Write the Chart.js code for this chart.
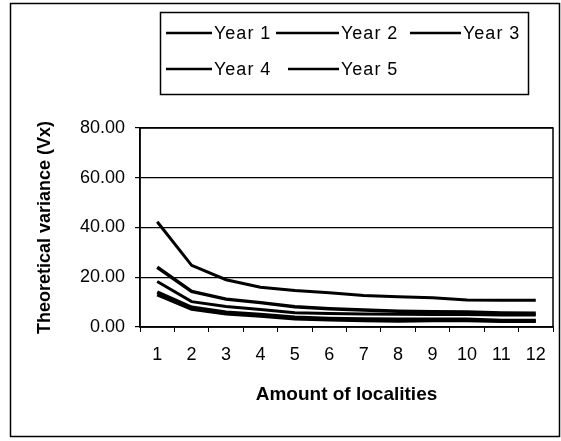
<!DOCTYPE html>
<html>
<head>
<meta charset="utf-8">
<script src="https://cdn.jsdelivr.net/npm/chart.js@4.4.1/dist/chart.umd.min.js"></script>
<style>
  html, body { margin: 0; padding: 0; background: #fff; }
  #wrap { width: 561px; height: 441px; position: relative; }
</style>
</head>
<body>
<div id="wrap"><canvas id="c" width="561" height="441"></canvas></div>
<script>
const categories = ['1','2','3','4','5','6','7','8','9','10','11','12'];
const seriesNames = ['Year 1','Year 2','Year 3','Year 4','Year 5'];
const year1 = [42.3, 24.8, 19.0, 16.0, 14.7, 13.8, 12.7, 12.2, 11.8, 10.9, 10.8, 10.8];
const year2 = [24.0, 14.3, 11.2, 9.8, 8.1, 7.3, 6.8, 6.3, 6.1, 6.0, 5.6, 5.5];
const year3 = [18.3, 10.2, 8.2, 7.0, 5.7, 5.4, 5.2, 5.1, 5.0, 5.0, 4.8, 4.8];
const year4 = [14.0, 7.9, 5.9, 5.0, 3.9, 3.4, 3.2, 3.1, 3.1, 3.1, 2.6, 2.6];
const year5 = [13.0, 7.2, 5.3, 4.4, 3.3, 2.9, 2.6, 2.4, 2.6, 2.6, 2.3, 2.3];
const yTicks = [0, 20, 40, 60, 80];

const FONT = "'Liberation Sans', Arial, sans-serif";

const frameAndLegend = {
  id: 'frameAndLegend',
  afterDraw(chart) {
    const ctx = chart.ctx;
    const ca = chart.chartArea;
    ctx.save();
    ctx.strokeStyle = '#000';
    ctx.lineWidth = 1.5;
    ctx.strokeRect(10.5, 3.5, 549, 433);
    ctx.strokeRect(ca.left, ca.top, ca.right - ca.left, ca.bottom - ca.top);
    ctx.strokeRect(160.5, 12.5, 368, 82);
    const items = [
      {x1: 166, x2: 212, tx: 214, y: 33},
      {x1: 276, x2: 339, tx: 341, y: 33},
      {x1: 410, x2: 461, tx: 463, y: 33},
      {x1: 166, x2: 212, tx: 214, y: 69},
      {x1: 288, x2: 339, tx: 341, y: 69}
    ];
    ctx.font = '18px ' + FONT;
    try { ctx.letterSpacing = '1px'; } catch (e) {}
    ctx.fillStyle = '#000';
    ctx.textBaseline = 'middle';
    ctx.textAlign = 'left';
    chart.data.datasets.forEach((ds, i) => {
      const it = items[i];
      ctx.beginPath();
      ctx.lineWidth = 2.5;
      ctx.moveTo(it.x1, it.y);
      ctx.lineTo(it.x2, it.y);
      ctx.stroke();
      ctx.fillText(ds.label, it.tx, it.y + 1);
    });
    ctx.restore();
  }
};

const seriesData = [year1, year2, year3, year4, year5];
const widths = [3, 3.5, 3, 3.5, 3.5];

new Chart(document.getElementById('c'), {
  type: 'line',
  data: {
    labels: categories,
    datasets: seriesNames.map((n, i) => ({
      label: n,
      data: seriesData[i],
      borderColor: '#000',
      backgroundColor: '#000',
      borderWidth: widths[i],
      pointRadius: 0,
      tension: 0,
      fill: false
    }))
  },
  options: {
    responsive: false,
    animation: false,
    devicePixelRatio: 1,
    layout: { padding: { left: 0, top: 128, right: 8, bottom: 0 } },
    plugins: { legend: { display: false }, tooltip: { enabled: false } },
    scales: {
      x: {
        offset: true,
        afterFit(s) { s.height = 114; },
        grid: { display: true, offset: true, drawOnChartArea: false, drawTicks: true, tickLength: 5, color: '#000', lineWidth: 1 },
        border: { display: true, color: '#000', width: 1.5 },
        ticks: { color: '#000', padding: 12, font: { family: FONT, size: 18 }, maxRotation: 0, autoSkip: false },
        title: { display: true, text: 'Amount of localities', color: '#000', font: { family: FONT, size: 19, weight: 'bold' }, padding: { top: 0, bottom: 35 } }
      },
      y: {
        min: 0, max: 80,
        afterFit(s) { s.width = 140; },
        afterBuildTicks(s) { s.ticks = yTicks.map(v => ({ value: v })); },
        grid: { display: true, drawTicks: true, tickLength: 5, color: '#000', lineWidth: 1.2 },
        border: { display: true, color: '#000', width: 1.5 },
        ticks: { color: '#000', padding: 10, font: { family: FONT, size: 18 }, callback: v => Number(v).toFixed(2) },
        title: { display: true, text: 'Theoretical variance (Vx)', color: '#000', font: { family: FONT, size: 18, weight: 'bold' }, padding: { top: 34, bottom: 0 } }
      }
    }
  },
  plugins: [frameAndLegend]
});
</script>
</body>
</html>
